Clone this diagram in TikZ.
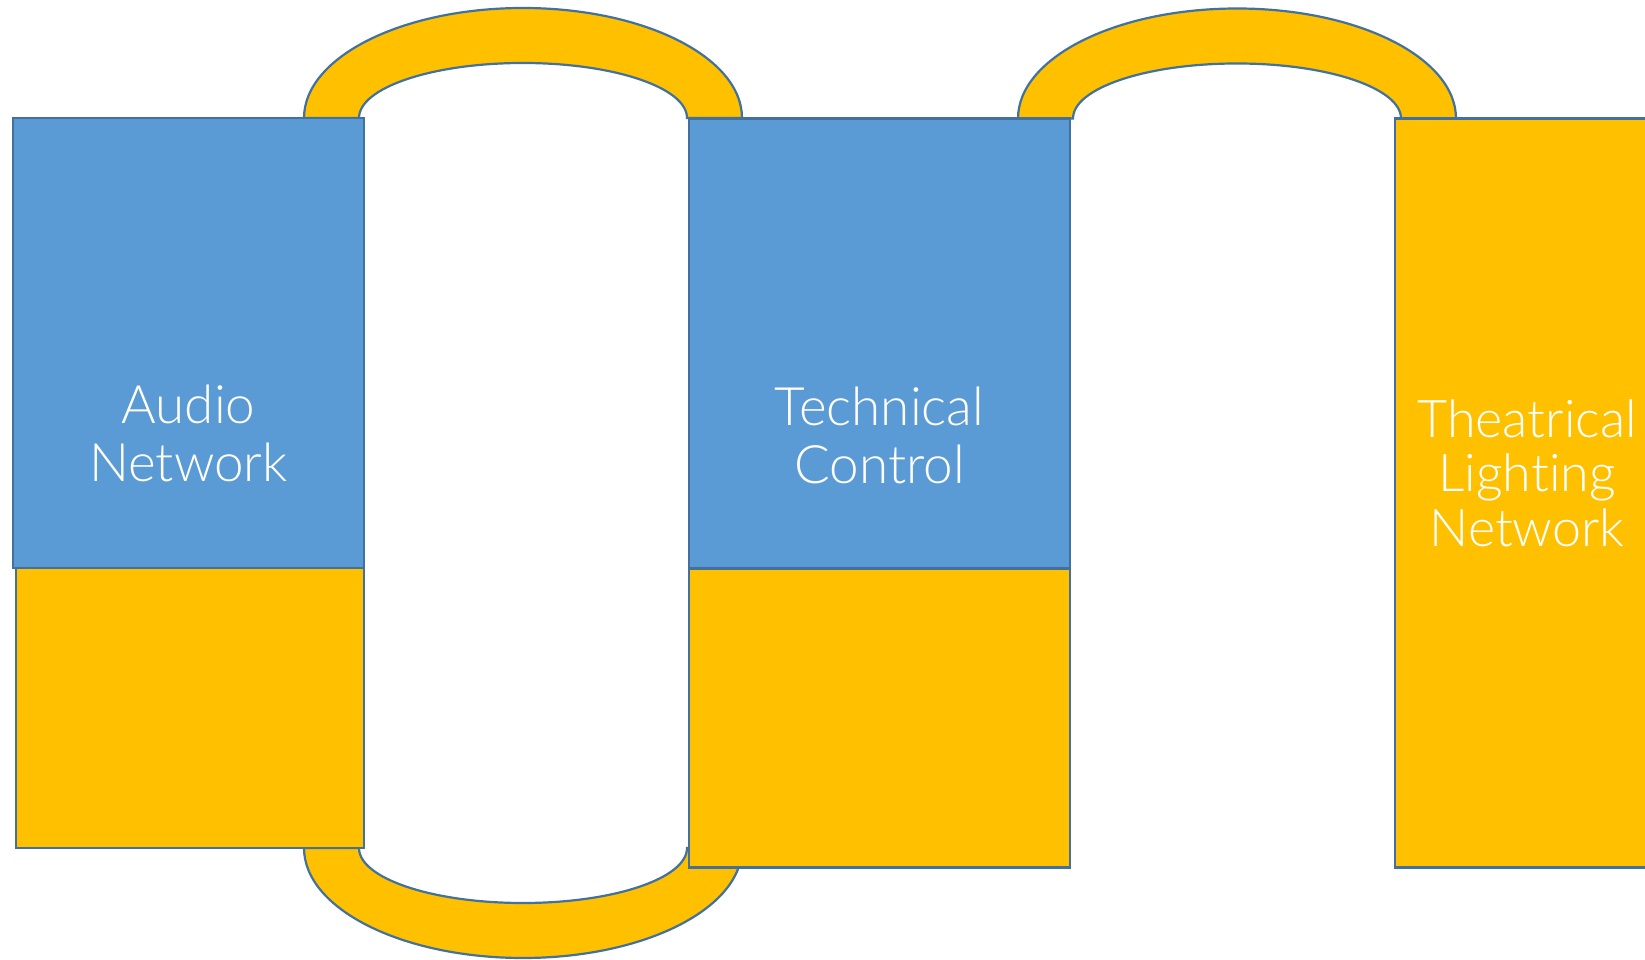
\documentclass[tikz,border=0pt]{standalone}
\usepackage{fontspec}
\setmainfont{Lato}[UprightFont=* Light, Ligatures=NoCommon]
\usepackage{tikz}
\usetikzlibrary{positioning, calc}
\definecolor{netblue}{HTML}{5B9BD5}
\definecolor{netgold}{HTML}{FFC000}
\definecolor{netedge}{HTML}{41719C}
\pgfdeclarelayer{back}
\pgfsetlayers{back,main}

\begin{document}
\begin{tikzpicture}[
      x=1pt, y=1pt,
      blk/.style={draw=netedge, line width=2.2pt, inner sep=0pt, outer sep=0pt},
      upper/.style={blk, fill=netblue},
      lower/.style={blk, fill=netgold},
      band/.style={draw=netedge, line width=2.2pt, fill=netgold},
      lbl/.style={text=white, align=center, inner sep=0pt, font=\fontsize{53}{58}\selectfont}]
    \useasboundingbox (0,0) rectangle (1645,959);
    % stacks
    \node[upper, anchor=north west, minimum width=351pt, minimum height=450pt] (audio) at (13,841) {};
    \node[lower, below left=0pt and 0pt of audio.south east, minimum width=348pt, minimum height=280pt] (audiolow) {};
    \node[upper, anchor=north west, minimum width=381pt, minimum height=450pt] (tech) at (689,840.5) {};
    \node[lower, below=0pt of tech.south, minimum width=381pt, minimum height=299pt] (techlow) {};
    \node[lower, anchor=north west, minimum width=264pt, minimum height=749pt] (light) at (1395,840.5) {};
    \node[lbl] (audiotxt) at ([yshift=-90pt]audio.center) {Audio\\Network};
    \node[lbl] (techtxt) at ([yshift=-92pt]tech.center) {Technical\\Control};
    \node[lbl, font=\fontsize{52}{54.5}\selectfont] (lighttxt) at ([yshift=20pt]light.center) {Theatrical\\Lighting\\Network};
    % bands between the stacks
    \begin{pgfonlayer}{back}
      \draw[band] ([xshift=-60pt]audio.north east) arc[start angle=180, end angle=0, x radius=219, y radius=110]
        -- ++(-55,0) arc[start angle=0, end angle=180, x radius=164, y radius=55] -- cycle;
      \draw[band] ([xshift=-52pt]tech.north east) arc[start angle=180, end angle=0, x radius=219, y radius=110]
        -- ++(-55,0) arc[start angle=0, end angle=180, x radius=164, y radius=55] -- cycle;
      \draw[band] ([xshift=-60pt]audiolow.south east) arc[start angle=180, end angle=360, x radius=219, y radius=110]
        -- ++(-55,0) arc[start angle=360, end angle=180, x radius=164, y radius=55] -- cycle;
    \end{pgfonlayer}
\end{tikzpicture}
\end{document}
